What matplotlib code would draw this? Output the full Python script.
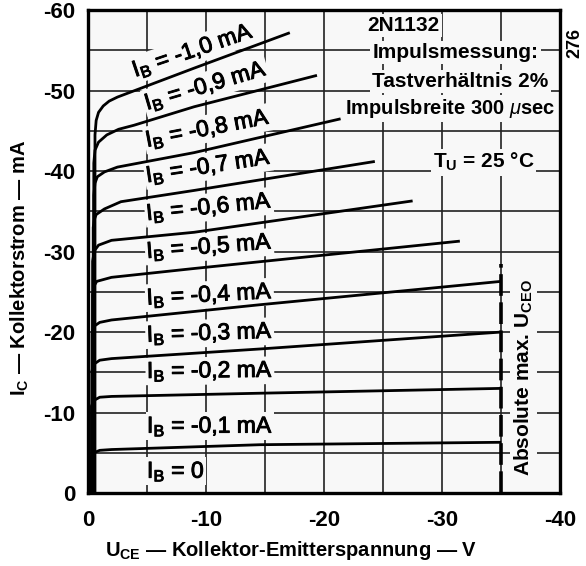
import matplotlib.pyplot as plt
import matplotlib.patheffects as pe
from matplotlib.ticker import MultipleLocator

plt.rcParams['font.family'] = ['Liberation Sans', 'DejaVu Sans']
plt.rcParams['mathtext.fontset'] = 'custom'
plt.rcParams['mathtext.rm'] = 'Liberation Sans'
plt.rcParams['mathtext.it'] = 'Liberation Sans:italic'
plt.rcParams['mathtext.bf'] = 'Liberation Sans:bold'
plt.rcParams['axes.unicode_minus'] = False

# output characteristics of the 2N1132
# (PNP, so voltages and currents are negative like on the datasheet)
ib_labels = ["-1,0", "-0,9", "-0,8", "-0,7", "-0,6", "-0,5",
             "-0,4", "-0,3", "-0,2", "-0,1", "0"]

uce_curves = [
    [-0.6, -0.6, -0.7, -0.9, -1.3, -1.8, -2.5, -9.0, -17.1],
    [-0.5, -0.5, -0.6, -0.9, -1.6, -2.6, -3.9, -9.0, -19.4],
    [-0.5, -0.5, -0.6, -0.8, -1.4, -2.5, -9.0, -21.4],
    [-0.45, -0.45, -0.55, -0.7, -1.4, -2.8, -9.0, -24.3],
    [-0.4, -0.4, -0.5, -0.6, -0.9, -2.0, -9.0, -27.5],
    [-0.4, -0.4, -0.5, -0.55, -0.75, -2.0, -9.0, -31.5],
    [-0.35, -0.35, -0.5, -1.0, -2.0, -14.6, -35.0],
    [-0.35, -0.35, -0.5, -1.0, -2.0, -14.6, -35.0],
    [-0.3, -0.3, -0.5, -1.0, -2.0, -14.6, -35.0],
    [-0.3, -0.3, -0.5, -1.0, -2.0, -14.6, -35.0],
]
ic_curves = [
    [0, -44.5, -46.3, -47.3, -48.1, -48.7, -49.2, -52.8, -57.2],
    [0, -41.0, -42.6, -43.6, -44.5, -45.2, -45.7, -48.0, -51.9],
    [0, -37.0, -38.5, -39.3, -39.9, -40.5, -42.3, -46.5],
    [0, -33.0, -34.0, -34.6, -35.3, -36.2, -37.6, -41.2],
    [0, -28.8, -29.7, -30.2, -30.8, -31.4, -32.4, -36.3],
    [0, -24.6, -25.4, -25.8, -26.3, -26.8, -27.9, -31.3],
    [0, -19.8, -20.7, -21.2, -21.5, -23.4, -26.3],
    [0, -15.2, -16.0, -16.5, -16.7, -17.9, -20.0],
    [0, -10.8, -11.5, -11.9, -12.0, -12.4, -13.0],
    [0, -4.5, -5.0, -5.3, -5.4, -6.0, -6.3],
]

uceo_max = -35.0      # absolute max U_CEO
uceo_line_top = -28.5

# label placement (left end of each I_B label) and its slant
label_u = [-4.0, -5.0, -5.0, -5.0, -5.0, -5.0, -5.0, -5.0, -5.0, -5.0, -5.0]
label_i = [-51.7, -47.6, -43.0, -38.6, -33.9, -29.2, -23.4, -18.8, -14.3, -7.5, -1.9]
label_rot = [18.7, 16.4, 10.9, 8.7, 5.9, 4.4, 3.0, 1.8, 0.5, 0.0, 0.0]

paper = '#f8f8f8'

fig = plt.figure(figsize=(5.86, 5.66), dpi=100, facecolor='white')
ax = fig.add_axes([0.150, 0.129, 0.806, 0.853])
ax.set_facecolor(paper)

for u, i in zip(uce_curves, ic_curves):
    ax.plot(u, i, color='black', lw=2.0, solid_capstyle='butt', zorder=3)

ax.plot([uceo_max, uceo_max], [0, uceo_line_top], color='black', lw=2.6,
        ls=(0, (6, 1.8)), zorder=3)

# scan-like heavier strokes for the curve labels
heavy = [pe.withStroke(linewidth=0.7, foreground='black')]
for lab, u, i, r in zip(ib_labels, label_u, label_i, label_rot):
    txt = r"I$_\mathrm{B}$ = " + lab + ("" if lab == "0" else " mA")
    ax.text(u, i, txt, fontsize=16.5, rotation=r, rotation_mode='anchor',
            ha='left', va='baseline', zorder=2.5, path_effects=heavy,
            bbox=dict(facecolor=paper, edgecolor='none', pad=1.0))

box = dict(facecolor=paper, edgecolor='none', pad=1.5)
note_size = 15
ax.text(-23.7, -58.1, "2N1132", fontsize=note_size, fontweight='bold',
        ha='left', va='center', bbox=box, zorder=2.5)
ax.text(-24.1, -54.7, "Impulsmessung:", fontsize=note_size, fontweight='bold',
        ha='left', va='center', bbox=box, zorder=2.5)
ax.text(-24.1, -51.1, "Tastverhältnis 2%", fontsize=note_size,
        fontweight='bold', ha='left', va='center', bbox=box, zorder=2.5)
ax.text(-21.8, -47.8, r"Impulsbreite 300 $\mu$sec", fontsize=14.5,
        fontweight='bold', ha='left', va='center', bbox=box, zorder=2.5)
ax.text(-29.2, -41.1, r"T$_\mathbf{U}$ = 25 °C", fontsize=note_size,
        fontweight='bold', ha='left', va='center', bbox=box, zorder=2.5)
ax.text(-36.9, -14.3, r"Absolute max. U$_\mathbf{CEO}$", fontsize=note_size,
        fontweight='bold', rotation=90, ha='center', va='center',
        bbox=box, zorder=2.5)

ax.set_xlim(0, -40)
ax.set_ylim(0, -60)
ax.xaxis.set_major_locator(MultipleLocator(10))
ax.xaxis.set_minor_locator(MultipleLocator(5))
ax.yaxis.set_major_locator(MultipleLocator(10))
ax.yaxis.set_minor_locator(MultipleLocator(5))
ax.grid(which='both', color='#222222', lw=1.2)
ax.set_axisbelow(True)
ax.tick_params(which='both', length=0, labelsize=16)
ax.tick_params(axis='x', pad=12)
ax.tick_params(axis='y', pad=9)
for lbl in ax.get_xticklabels() + ax.get_yticklabels():
    lbl.set_fontweight('bold')
for s in ax.spines.values():
    s.set_linewidth(2.4)

fig.text(291 / 586, 1 - 551 / 566,
         r"U$_\mathbf{CE}$ — Kollektor-Emitterspannung — V",
         fontsize=14.5, fontweight='bold', ha='center', va='center')
fig.text(20 / 586, 1 - 268 / 566, r"I$_\mathbf{C}$ — Kollektorstrom — mA",
         fontsize=14.5, fontweight='bold', rotation=90, ha='center', va='center')
fig.text(0.981, 0.924, "276", fontsize=13, fontweight='bold', rotation=90,
         ha='center', va='center')

fig.savefig("out.png", dpi=100, facecolor='white')
